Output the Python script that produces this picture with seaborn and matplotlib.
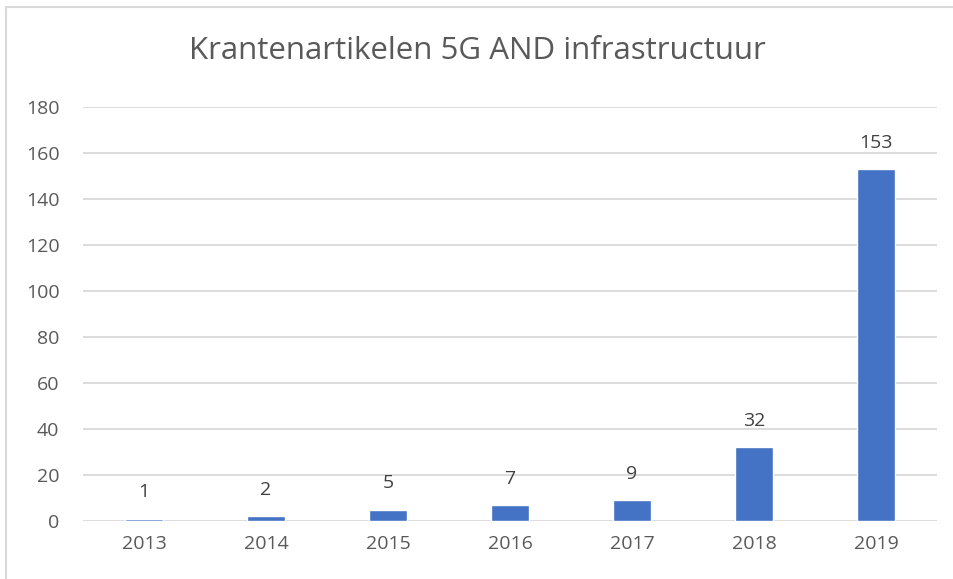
import matplotlib.pyplot as plt
import matplotlib.patches as mpatches
import seaborn as sns
import pandas as pd

# data
jaren = ['2013', '2014', '2015', '2016', '2017', '2018', '2019']
aantallen = [1, 2, 5, 7, 9, 32, 153]
yticks = [0, 20, 40, 60, 80, 100, 120, 140, 160, 180]

df = pd.DataFrame({'jaar': jaren, 'aantal': aantallen})

sns.set_theme(style='white')
plt.rcParams['font.family'] = ['Open Sans', 'DejaVu Sans']

tekst_kleur = '#595959'
fig = plt.figure(figsize=(9.54, 5.79), dpi=100)
ax = fig.add_axes([83 / 954, 1 - 521 / 579, (937 - 83) / 954, (521 - 107) / 579])

sns.barplot(data=df, x='jaar', y='aantal', color='#4472C4', width=0.31,
            saturation=1, ax=ax, zorder=3)

ax.set_ylim(0, 180)
ax.set_xlim(-0.5, len(jaren) - 0.5)
ax.set_yticks(yticks)
ax.yaxis.grid(True, color='#D9D9D9', linewidth=1.3, zorder=0)
ax.set_axisbelow(True)
for s in ax.spines.values():
    s.set_visible(False)
ax.tick_params(axis='both', length=0, labelsize=14, colors=tekst_kleur)
ax.tick_params(axis='y', pad=17)
ax.tick_params(axis='x', pad=10)
ax.set_xlabel('')
ax.set_ylabel('')

# waarden boven de staven
for i, v in enumerate(aantallen):
    ax.annotate(str(v), (i, v), xytext=(0, 19), textcoords='offset points',
                ha='center', va='center', fontsize=14, color='#404040')

fig.text(0.5, 1 - 51 / 579, 'Krantenartikelen 5G AND infrastructuur',
         ha='center', va='center', fontsize=22.5, color=tekst_kleur)

# kader om de grafiek
fig.patches.append(mpatches.Rectangle((6 / 954, -0.1), 1.2, 1 - 7 / 579 + 0.1,
                                      transform=fig.transFigure, fill=False,
                                      edgecolor='#D9D9D9', linewidth=1.5))

plt.savefig('out.png', dpi=100)
